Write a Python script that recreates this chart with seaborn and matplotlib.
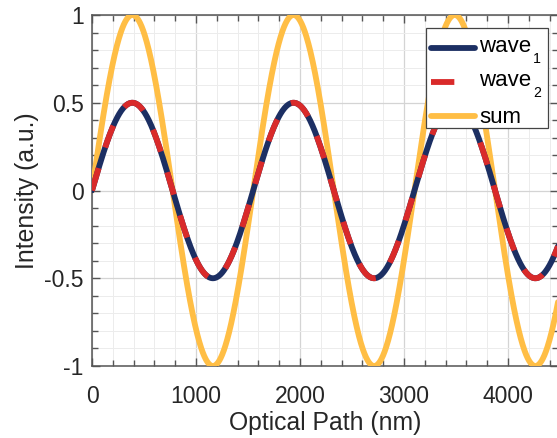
import numpy as np
import pandas as pd
import matplotlib
matplotlib.use("Agg")
import matplotlib.pyplot as plt
import matplotlib.transforms as mtransforms
from matplotlib.patches import Rectangle
from matplotlib.ticker import MultipleLocator
import seaborn as sns

# Two equal in-phase waves and their sum
wavelength_nm = 1550.0
amplitudes = [0.5, 0.5]
phases = [0.0, 0.0]
series_base = ["wave", "wave", "sum"]
series_sub = ["1", "2", ""]
series_colors = ["#1c2f63", "#d92a2a", "#ffbe45"]
x_ticks = [0, 1000, 2000, 3000, 4000]
y_ticks = [-1, -0.5, 0, 0.5, 1]
y_tick_labels = ["-1", "-0.5", "0", "0.5", "1"]
x_max = 4480

path = np.linspace(0, x_max, 1200)
w1 = amplitudes[0] * np.sin(2 * np.pi * path / wavelength_nm + phases[0])
w2 = amplitudes[1] * np.sin(2 * np.pi * path / wavelength_nm + phases[1])
total = w1 + w2

sns.set_theme(style="white")
plt.rcParams["font.family"] = ["Liberation Sans", "DejaVu Sans"]

W, H = 557, 438
fig = plt.figure(figsize=(W / 100, H / 100), dpi=100)
left, right, top, bottom = 92, 558, 15, 366
ax = fig.add_axes([left / W, 1 - bottom / H, (right - left) / W, (bottom - top) / H])

df = pd.DataFrame({"path": path, "w1": w1, "w2": w2, "sum": total})
lw = 4.2
sns.lineplot(data=df, x="path", y="sum", ax=ax, color=series_colors[2], lw=lw,
             label="s", zorder=3)
sns.lineplot(data=df, x="path", y="w1", ax=ax, color=series_colors[0], lw=lw,
             label="w1", zorder=4)
sns.lineplot(data=df, x="path", y="w2", ax=ax, color=series_colors[1], lw=lw,
             label="w2", zorder=4.5)
ax.lines[-1].set_dashes([4.0, 3.7])
ax.lines[-1].set_dash_capstyle("butt")

ax.set_xlim(0, x_max)
ax.set_ylim(-1, 1)
ax.set_xticks(x_ticks)
ax.set_yticks(y_ticks)
ax.set_yticklabels(y_tick_labels)
ax.xaxis.set_minor_locator(MultipleLocator(200))
ax.yaxis.set_minor_locator(MultipleLocator(0.1))

ax.grid(True, which="major", color="#d4d4d4", lw=0.9)
ax.grid(True, which="minor", color="#ececec", lw=0.7)
ax.set_axisbelow(True)

spine_c = "#555555"
for s in ax.spines.values():
    s.set_color(spine_c)
    s.set_linewidth(1.1)
ax.tick_params(which="both", direction="in", color=spine_c, top=True, right=True,
               bottom=True, left=True, labelcolor="#262626", labelsize=16.5, width=1.0)
ax.tick_params(which="major", length=6)
ax.tick_params(axis="x", which="major", pad=13.5)
ax.tick_params(axis="y", which="major", pad=6)
ax.tick_params(which="minor", length=4)

ax.set_xlabel("Optical Path (nm)", fontsize=17.8, color="#262626", labelpad=2)
ax.set_ylabel("Intensity (a.u.)", fontsize=17.8, color="#262626", labelpad=4)

# legend frame (fixed box) with the legend entries laid on top
frame = Rectangle((426 / W, 1 - 128 / H), 122 / W, 100 / H, transform=fig.transFigure,
                  facecolor="white", edgecolor="#444444", lw=0.9, zorder=5.5,
                  clip_on=False)
ax.add_patch(frame)

handles, labels = ax.get_legend_handles_labels()
order = [labels.index(k) for k in ["w1", "w2", "s"]]
leg_fs = 16
anchor = ax.transAxes.inverted().transform(fig.transFigure.transform((431 / W, 1 - 39.5 / H)))
leg = ax.legend([handles[i] for i in order], series_base,
                loc="upper left", bbox_to_anchor=tuple(anchor),
                fontsize=leg_fs, frameon=False, handlelength=2.0, handletextpad=0.2,
                borderpad=0, labelspacing=0.59, borderaxespad=0)
leg.set_zorder(6)

# labels with lowered subscripts, set beside each legend handle
fig.canvas.draw()
renderer = fig.canvas.get_renderer()
ident = mtransforms.IdentityTransform()
for txt, hd, base, sub in zip(leg.get_texts(), leg.legend_handles, series_base, series_sub):
    txt.set_alpha(0)
    hb = hd.get_window_extent(renderer)
    hy = 0.5 * (hb.y0 + hb.y1)
    tx = hb.x1 + 4
    baseline = hy - (4 if sub else 7)
    t = fig.text(tx, baseline, base, fontsize=leg_fs, color="#000000",
                 va="baseline", ha="left", transform=ident)
    if sub:
        tw = t.get_window_extent(renderer).width
        fig.text(tx + tw + 1.5, baseline - 11.5, sub, fontsize=10.2, color="#000000",
                 va="baseline", ha="left", transform=ident)

fig.savefig("out.png", dpi=100)
